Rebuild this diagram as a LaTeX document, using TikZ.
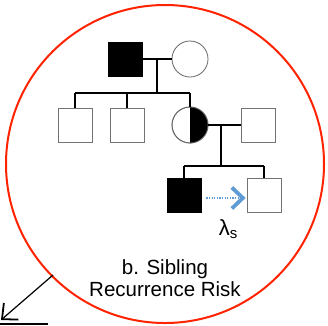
\documentclass[tikz,border=0pt]{standalone}
\usepackage{fontspec}
\setmainfont{Liberation Sans}
\usetikzlibrary{arrows.meta}
\definecolor{ringred}{RGB}{255,35,0}
\definecolor{arrowblue}{RGB}{95,155,213}
\begin{document}
\begin{tikzpicture}[x=1pt,y=-1pt,
  male/.style={draw=black!55, line width=0.8pt, minimum size=34pt, inner sep=0pt, rectangle, fill=white},
  affm/.style={male, fill=black, draw=black},
  female/.style={draw=black!60, line width=0.8pt, circle, minimum size=36pt, inner sep=0pt},
  link/.style={line width=1.2pt, black}]
\useasboundingbox (0,0) rectangle (328,325);
\fill[white] (0,0) rectangle (328,325);
% ring
\node[draw=ringred, line width=2pt, circle, minimum size=318pt, inner sep=0pt] (ring) at (165,164) {};
% generation I
\node[affm] (f) at (125,59) {};
\node[female] (m) at (190,59) {};
\coordinate (mI) at (157,59);
\coordinate (sI) at (157,93);
\draw[link] (f.east) -- (m.west);
\draw[link] (mI) -- (sI);
% generation II
\node[male] (c1) at (75,125) {};
\node[male] (c2) at (127,125) {};
\node[female] (d) at (190,125) {};
\fill[black] (190,107) arc[start angle=90, end angle=-90, radius=18pt] -- cycle;
\draw[black!60, line width=0.8pt] (d) circle[radius=18pt];
\node[male] (h) at (258,125) {};
\coordinate (c1t) at (75,93);
\coordinate (c2t) at (127,93);
\coordinate (dt) at (190,93);
\draw[link] (c1t) -- (dt);
\draw[link] (c1t) -- (c1.north);
\draw[link] (c2t) -- (c2.north);
\draw[link] (dt) -- (d.north);
\draw[link] (d.east) -- (h.west);
% generation III
\coordinate (mII) at (221,125);
\coordinate (sII) at (221,166);
\draw[link] (mII) -- (sII);
\node[affm] (s1) at (184,195) {};
\node[male] (s2) at (264,195) {};
\coordinate (s1t) at (184,166);
\coordinate (s2t) at (264,166);
\draw[link] (s1t) -- (s2t);
\draw[link] (s1t) -- (s1.north);
\draw[link] (s2t) -- (s2.north);
% sibling risk arrow
\draw[arrowblue, line width=1.6pt, dash pattern=on 1.2pt off 1.4pt, -{Straight Barb[length=11pt,width=21pt,line width=3.8pt]}] (s1.east) ++(5,3) coordinate (ab) -- ([xshift=-1pt]s2.west|-ab);
\node[font=\fontsize{22}{22}\selectfont, inner sep=0pt] (lam) at (228,229) {λ\raisebox{-0.3ex}{\fontsize{15}{15}\selectfont s}};
% caption
\node[font=\fontsize{20.5}{22.5}\selectfont, align=center] (cap) at (165,278) {b. Sibling\\Recurrence Risk};
% pointer
\coordinate (pt) at (53,275);
\coordinate (tip) at (1,320);
\draw[black, line width=1.2pt, -{Straight Barb[length=12pt,width=22pt,line width=1.8pt]}] (pt) -- (tip);
\coordinate (bl) at (0,324);
\coordinate (br) at (48,324);
\draw[black, line width=1.2pt] (bl) -- (br);
\end{tikzpicture}
\end{document}
